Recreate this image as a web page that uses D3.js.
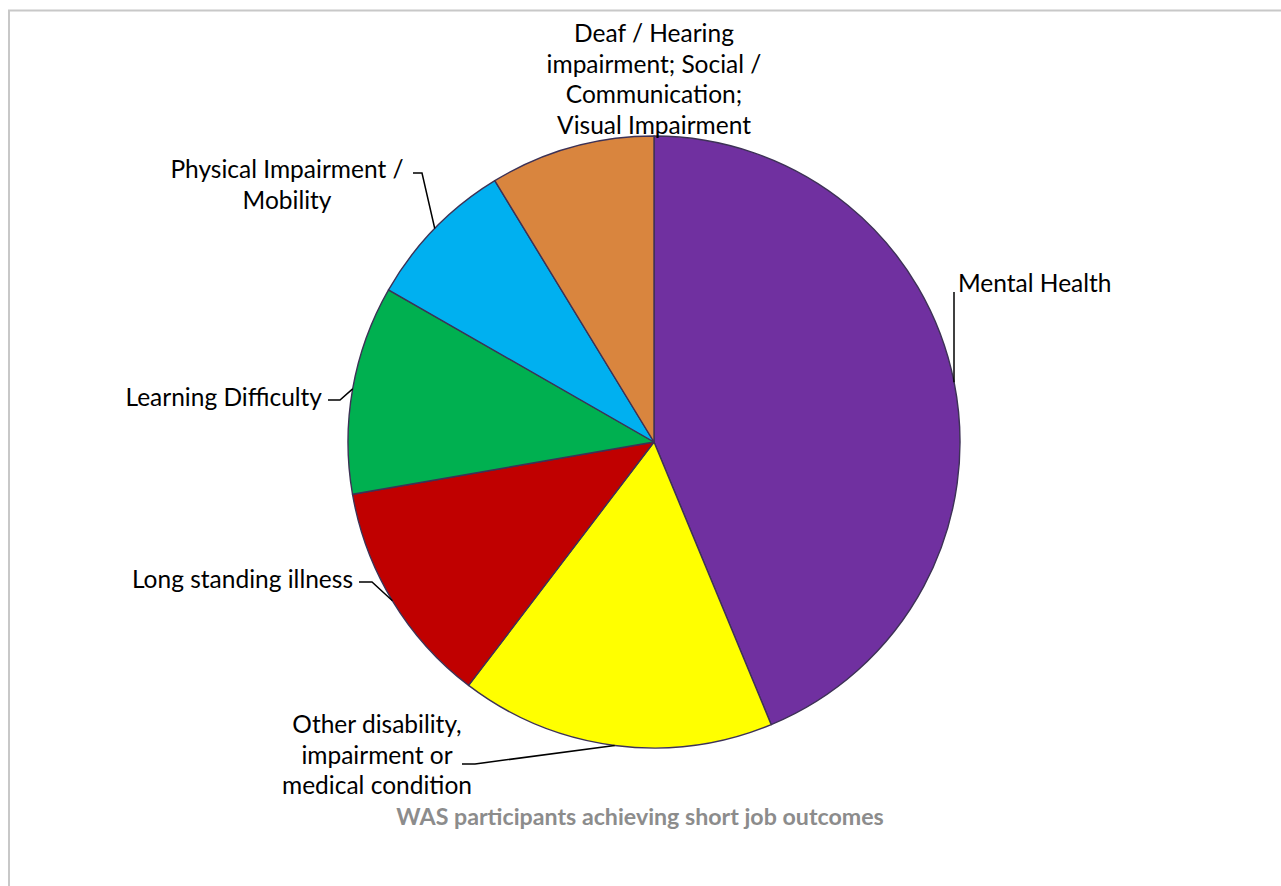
<!DOCTYPE html>
<html>
<head>
<meta charset="utf-8">
<script src="https://cdn.jsdelivr.net/npm/d3@7"></script>
<style>
  html, body { margin: 0; padding: 0; background: #fff; }
  svg { display: block; }
  text { font-family: Lato, "Open Sans", "Liberation Sans", sans-serif; }
</style>
</head>
<body>
<svg id="chart" width="1281" height="886"></svg>
<script>
// ---- data ----
const categories = [
  "Mental Health",
  "Other disability, impairment or medical condition",
  "Long standing illness",
  "Learning Difficulty",
  "Physical Impairment / Mobility",
  "Deaf / Hearing impairment; Social / Communication; Visual Impairment"
];
const values = [43.7, 16.6, 11.9, 11.0, 8.0, 8.7];
const colors = ["#7030A0", "#FFFF00", "#C00000", "#00B050", "#00B0F0", "#D9853E"];
const labelLines = [
  ["Mental Health"],
  ["Other disability,", "impairment or", "medical condition"],
  ["Long standing illness"],
  ["Learning Difficulty"],
  ["Physical Impairment /", "Mobility"],
  ["Deaf / Hearing", "impairment; Social /", "Communication;", "Visual Impairment"]
];
const title = "WAS participants achieving short job outcomes";

// ---- layout (label placement, not data) ----
const labelLayout = [
  {x: 958, y: 292, anchor: "start", leader: "vertical", lx: 954, ly: 292},
  {x: 377, y: 733, anchor: "middle", leader: "elbow", hx0: 462, hx1: 475, ly: 764},
  {x: 353, y: 588, anchor: "end", leader: "elbow", hx0: 359, hx1: 372, ly: 582},
  {x: 322, y: 406, anchor: "end", leader: "elbow", hx0: 328, hx1: 340, ly: 400},
  {x: 287, y: 178, anchor: "middle", leader: "elbow", hx0: 413, hx1: 422, ly: 173},
  {x: 654, y: 42, anchor: "middle", leader: "none"}
];

const W = 1281, H = 886;
const cx = 654, cy = 442, R = 306;
const lineH = 30.5;
const fs = 24.5;

const svg = d3.select("#chart");

svg.append("rect")
  .attr("x", 9).attr("y", 10.5)
  .attr("width", W + 20).attr("height", H + 20)
  .attr("fill", "#fff")
  .attr("stroke", "#c8c8c8").attr("stroke-width", 2);

const data = categories.map((c, i) => ({cat: c, value: values[i], color: colors[i], lines: labelLines[i], lay: labelLayout[i]}));

const pie = d3.pie().sort(null).value(d => d.value);
const arcs = pie(data);
const arc = d3.arc().innerRadius(0).outerRadius(R);

const g = svg.append("g").attr("transform", `translate(${cx},${cy})`);
g.selectAll("path.slice")
  .data(arcs)
  .join("path")
  .attr("class", "slice")
  .attr("d", arc)
  .attr("fill", d => d.data.color)
  .attr("stroke", "#3d3256")
  .attr("stroke-width", 1.4)
  .attr("stroke-linejoin", "round");

arcs.forEach(a => {
  const L = a.data.lay;
  const mid = (a.startAngle + a.endAngle) / 2;
  const px = cx + R * Math.sin(mid), py = cy - R * Math.cos(mid);
  if (L.leader === "vertical") {
    svg.append("path")
      .attr("d", `M${L.lx},${L.ly}L${L.lx},${py}`)
      .attr("stroke", "#000").attr("stroke-width", 1.5).attr("fill", "none");
  } else if (L.leader === "elbow") {
    svg.append("path")
      .attr("d", `M${L.hx0},${L.ly}L${L.hx1},${L.ly}L${px},${py}`)
      .attr("stroke", "#000").attr("stroke-width", 1.5).attr("fill", "none");
  }
  const t = svg.append("text")
    .attr("text-anchor", L.anchor)
    .attr("font-size", fs)
    .attr("fill", "#000");
  a.data.lines.forEach((ln, i) => {
    t.append("tspan").attr("x", L.x).attr("y", L.y + i * lineH).text(ln);
  });
});

svg.append("text")
  .attr("x", 640).attr("y", 825)
  .attr("text-anchor", "middle")
  .attr("font-size", 23.2)
  .attr("font-weight", "bold")
  .attr("fill", "#8c8c8c")
  .text(title);
</script>
</body>
</html>
